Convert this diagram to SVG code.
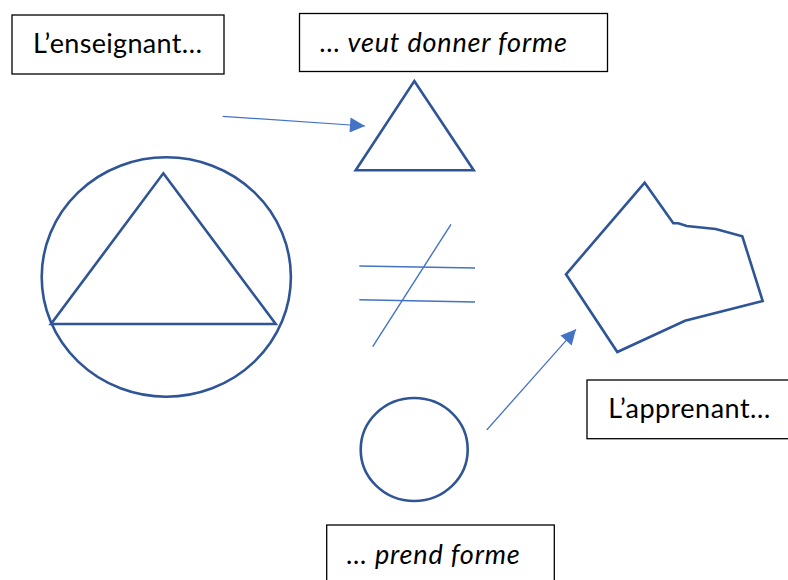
<svg xmlns="http://www.w3.org/2000/svg" width="788" height="580" viewBox="0 0 788 580">
<style>
.box{fill:#fff;stroke:#000;stroke-width:1.3}
.lbl{font-family:Lato,"Open Sans","Liberation Sans",sans-serif;font-size:27px;fill:#000}
.it{font-style:italic}
.shape{fill:none;stroke:#2F5597;stroke-width:2.6;stroke-linejoin:miter}
.thin{fill:none;stroke:#4472C4;stroke-width:1.4}
.conn{fill:none;stroke:#4472C4;stroke-width:1.2}
</style>
<defs>
<marker id="ah" viewBox="0 0 10 10" refX="10" refY="5" markerWidth="16" markerHeight="15" markerUnits="userSpaceOnUse" orient="auto">
<path d="M0,0 L10,5 L0,10 Z" fill="#4472C4"/>
</marker>
</defs>
<rect width="788" height="580" fill="#fff"/>
<g id="label-enseignant">
<rect class="box" x="12" y="15" width="212" height="59"/>
<text class="lbl" x="33" y="53" textLength="169" lengthAdjust="spacing">L’enseignant…</text>
</g>
<g id="label-veut">
<rect class="box" x="299.5" y="13.5" width="308" height="58"/>
<text class="lbl it" x="320" y="52" textLength="247" lengthAdjust="spacing">… veut donner forme</text>
</g>
<g id="triangle-small">
<polygon class="shape" points="414.3,81 473.7,170.3 355.7,170.3"/>
</g>
<g id="circle-triangle">
<ellipse class="shape" cx="166.3" cy="277" rx="124.6" ry="119.7"/>
<polygon class="shape" points="163.3,173.3 275.7,324 51,324"/>
</g>
<g id="not-equal">
<line class="thin" x1="359.3" y1="266" x2="475" y2="268"/>
<line class="thin" x1="359.3" y1="299.7" x2="475" y2="302"/>
<line class="thin" x1="451" y1="224.3" x2="372.7" y2="346.7"/>
</g>
<g id="polygon-irregular">
<polygon class="shape" points="644.7,182.7 673.3,223.3 678.3,223.3 686.7,226 715.7,229 742.3,236.3 762.7,301 685,320.7 617.3,352 566,274.3"/>
</g>
<g id="circle-small">
<ellipse class="shape" cx="414.2" cy="449.5" rx="53.5" ry="51.5"/>
</g>
<g id="label-apprenant">
<rect class="box" x="587" y="380" width="210" height="58.7"/>
<text class="lbl" x="608.3" y="418.3" textLength="162" lengthAdjust="spacing">L’apprenant…</text>
</g>
<g id="label-prend">
<rect class="box" x="326.7" y="525" width="227.6" height="70"/>
<text class="lbl it" x="346.7" y="563.5" textLength="173" lengthAdjust="spacing">… prend forme</text>
</g>
<g id="connectors">
<line class="conn" x1="222.7" y1="116.3" x2="365" y2="126" marker-end="url(#ah)"/>
<line class="conn" x1="486.7" y1="430" x2="576" y2="329.3" marker-end="url(#ah)"/>
</g>
</svg>
